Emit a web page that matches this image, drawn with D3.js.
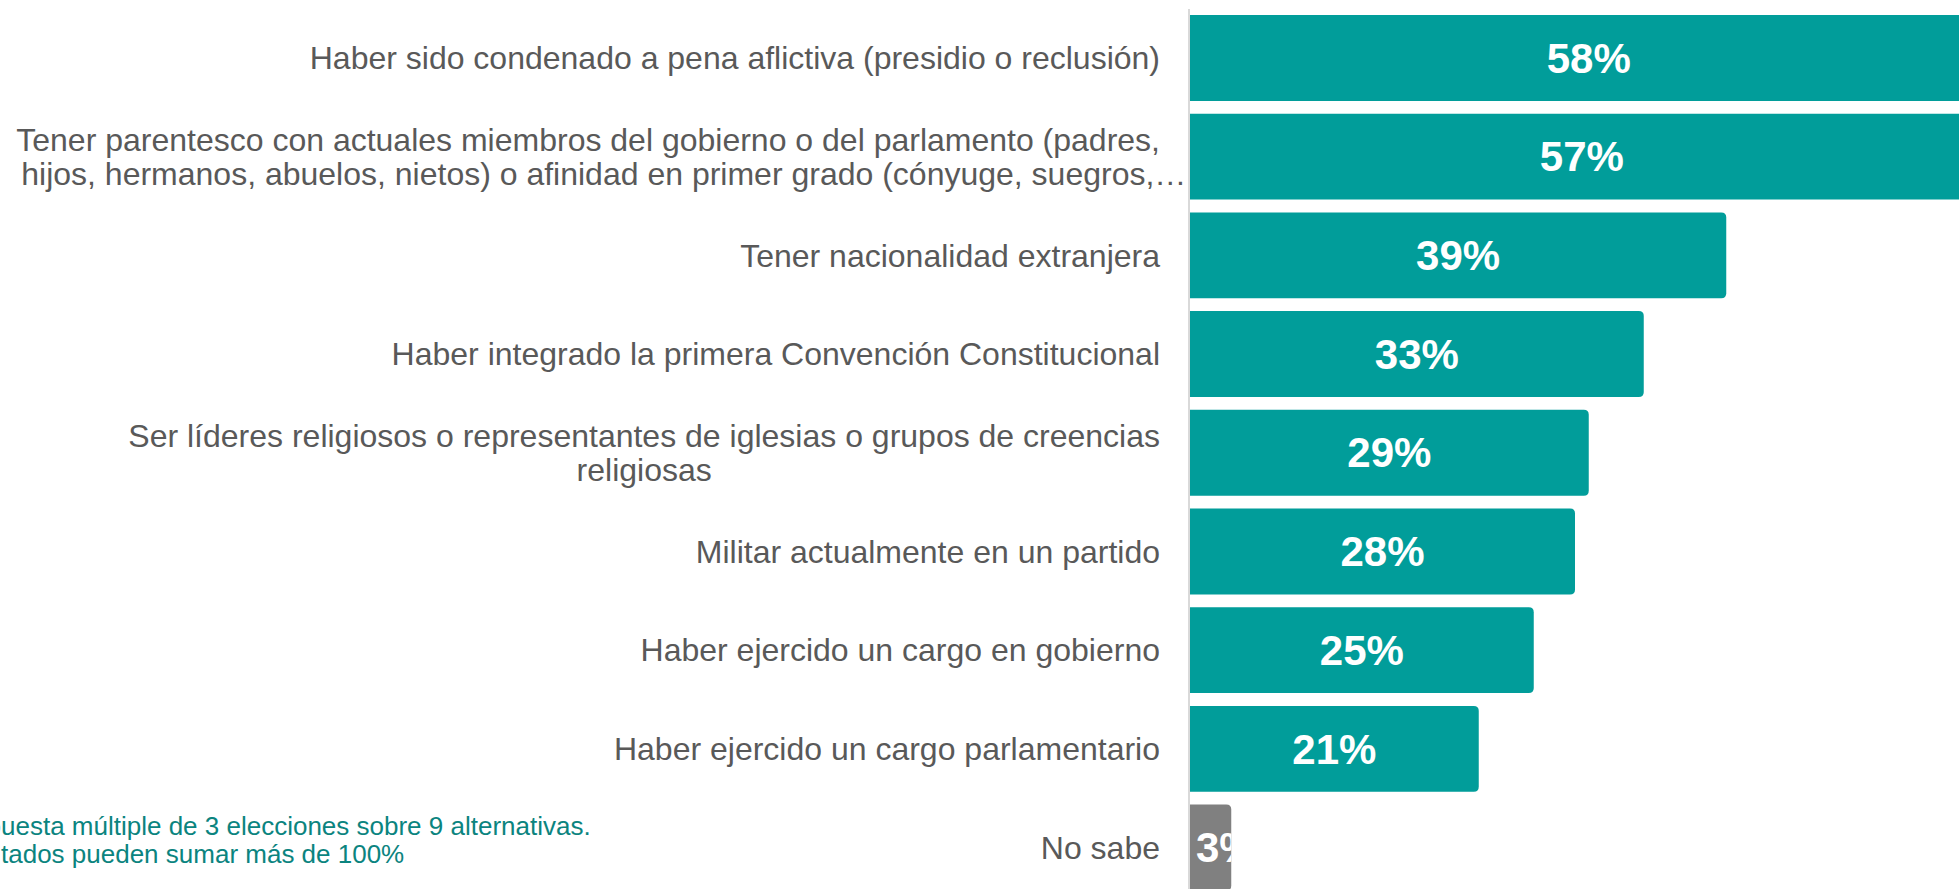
<!DOCTYPE html>
<html>
<head>
<meta charset="utf-8">
<script src="https://cdn.jsdelivr.net/npm/d3@7"></script>
<style>
  body { margin: 0; background: #fff; overflow: hidden; }
  svg { display: block; font-family: "Liberation Sans", Arial, sans-serif; }
</style>
</head>
<body>
<svg id="drawing_region"></svg>
<script>
// categories (each entry is the lines of the label)
const categories = [
    ["Haber sido condenado a pena aflictiva (presidio o reclusión)"],
    ["Tener parentesco con actuales miembros del gobierno o del parlamento (padres,",
     "hijos, hermanos, abuelos, nietos) o afinidad en primer grado (cónyuge, suegros,…"],
    ["Tener nacionalidad extranjera"],
    ["Haber integrado la primera Convención Constitucional"],
    ["Ser líderes religiosos o representantes de iglesias o grupos de creencias",
     "religiosas"],
    ["Militar actualmente en un partido"],
    ["Haber ejercido un cargo en gobierno"],
    ["Haber ejercido un cargo parlamentario"],
    ["No sabe"]
];
const values = [58, 57, 39, 33, 29, 28, 25, 21, 3];
const noteLines = [
    "Respuesta múltiple de 3 elecciones sobre 9 alternativas.",
    "Resultados pueden sumar más de 100%"
];

const data = categories.map((c, i) => ({ id: i, lines: c, value: values[i] }));

const config = {
    width: 1959,
    height: 889,
    axisX: 1190,
    teal: '#019d9a',
    grey: '#808080',
    labelColor: '#595959',
    noteColor: '#0b847f'
};

const svg = d3.select('#drawing_region')
    .attr('width', config.width)
    .attr('height', config.height);

const xScale = d3.scaleLinear()
    .domain([0, 100])
    .range([config.axisX, config.axisX + 1375]);

const yScale = d3.scaleBand()
    .domain(data.map(d => d.id))
    .range([8.6, 896.9])
    .paddingInner(0.13)
    .paddingOuter(0.065);

// bar with rounded right corners only
function barPath(x0, y0, w, h, r) {
    r = Math.min(r, w / 2, h / 2);
    return `M${x0},${y0}H${x0 + w - r}Q${x0 + w},${y0} ${x0 + w},${y0 + r}` +
           `V${y0 + h - r}Q${x0 + w},${y0 + h} ${x0 + w - r},${y0 + h}H${x0}Z`;
}

const defs = svg.append('defs');
defs.selectAll('clipPath')
    .data(data)
    .join('clipPath')
    .attr('id', d => 'clip' + d.id)
    .append('path')
    .attr('d', d => barPath(xScale(0), yScale(d.id), xScale(d.value) - xScale(0), yScale.bandwidth(), 5));

const bars = svg.append('g').selectAll('g')
    .data(data)
    .join('g');

bars.append('path')
    .attr('d', d => barPath(xScale(0), yScale(d.id), xScale(d.value) - xScale(0), yScale.bandwidth(), 5))
    .attr('fill', d => d.lines[0] === 'No sabe' ? config.grey : config.teal);

bars.append('text')
    .attr('clip-path', d => `url(#clip${d.id})`)
    .attr('fill', 'white')
    .attr('font-weight', 'bold')
    .attr('font-size', '42px')
    .attr('dy', '0.35em')
    .attr('y', d => yScale(d.id) + yScale.bandwidth() / 2)
    .text(d => d.value + '%')
    .each(function(d) {
        const w = this.getComputedTextLength();
        const bw = xScale(d.value) - xScale(0);
        if (bw > w + 10) {
            d3.select(this).attr('text-anchor', 'middle').attr('x', xScale(0) + bw / 2);
        } else {
            d3.select(this).attr('text-anchor', 'start').attr('x', xScale(0) + 6);
        }
    });

// category labels
const labelRight = config.axisX - 30;
const lineGap = 34;
const labels = svg.append('g')
    .attr('fill', config.labelColor)
    .attr('font-size', '32px');

data.forEach(d => {
    const cy = yScale(d.id) + yScale.bandwidth() / 2;
    const n = d.lines.length;
    const t = labels.append('text');
    let firstW = 0;
    d.lines.forEach((line, i) => {
        const ts = t.append('tspan')
            .attr('y', cy + (i - (n - 1) / 2) * lineGap)
            .attr('dy', '0.35em')
            .text(line);
        const w = ts.node().getComputedTextLength();
        if (i === 0) {
            ts.attr('x', labelRight).attr('text-anchor', 'end');
            firstW = w;
        } else if (w > firstW) {
            // overflowing line: indented a little and running past the box
            ts.attr('x', labelRight - firstW + 5).attr('text-anchor', 'start');
        } else {
            ts.attr('x', labelRight - firstW / 2).attr('text-anchor', 'middle');
        }
    });
});

// axis line
svg.append('line')
    .attr('x1', config.axisX - 1)
    .attr('x2', config.axisX - 1)
    .attr('y1', 9)
    .attr('y2', config.height)
    .attr('stroke', '#d9d9d9')
    .attr('stroke-width', 2);

// footnote (partly cut off at the left edge, as in the original)
const note = svg.append('g')
    .attr('fill', config.noteColor)
    .attr('font-size', '26px');
note.selectAll('text')
    .data(noteLines)
    .join('text')
    .attr('y', (d, i) => 826 + i * 28)
    .attr('dy', '0.35em')
    .text(d => d)
    .each(function(d, i) {
        const shift = this.getSubStringLength(0, i === 0 ? 4 : 5);
        d3.select(this).attr('x', -shift + 1);
    });
</script>
</body>
</html>
